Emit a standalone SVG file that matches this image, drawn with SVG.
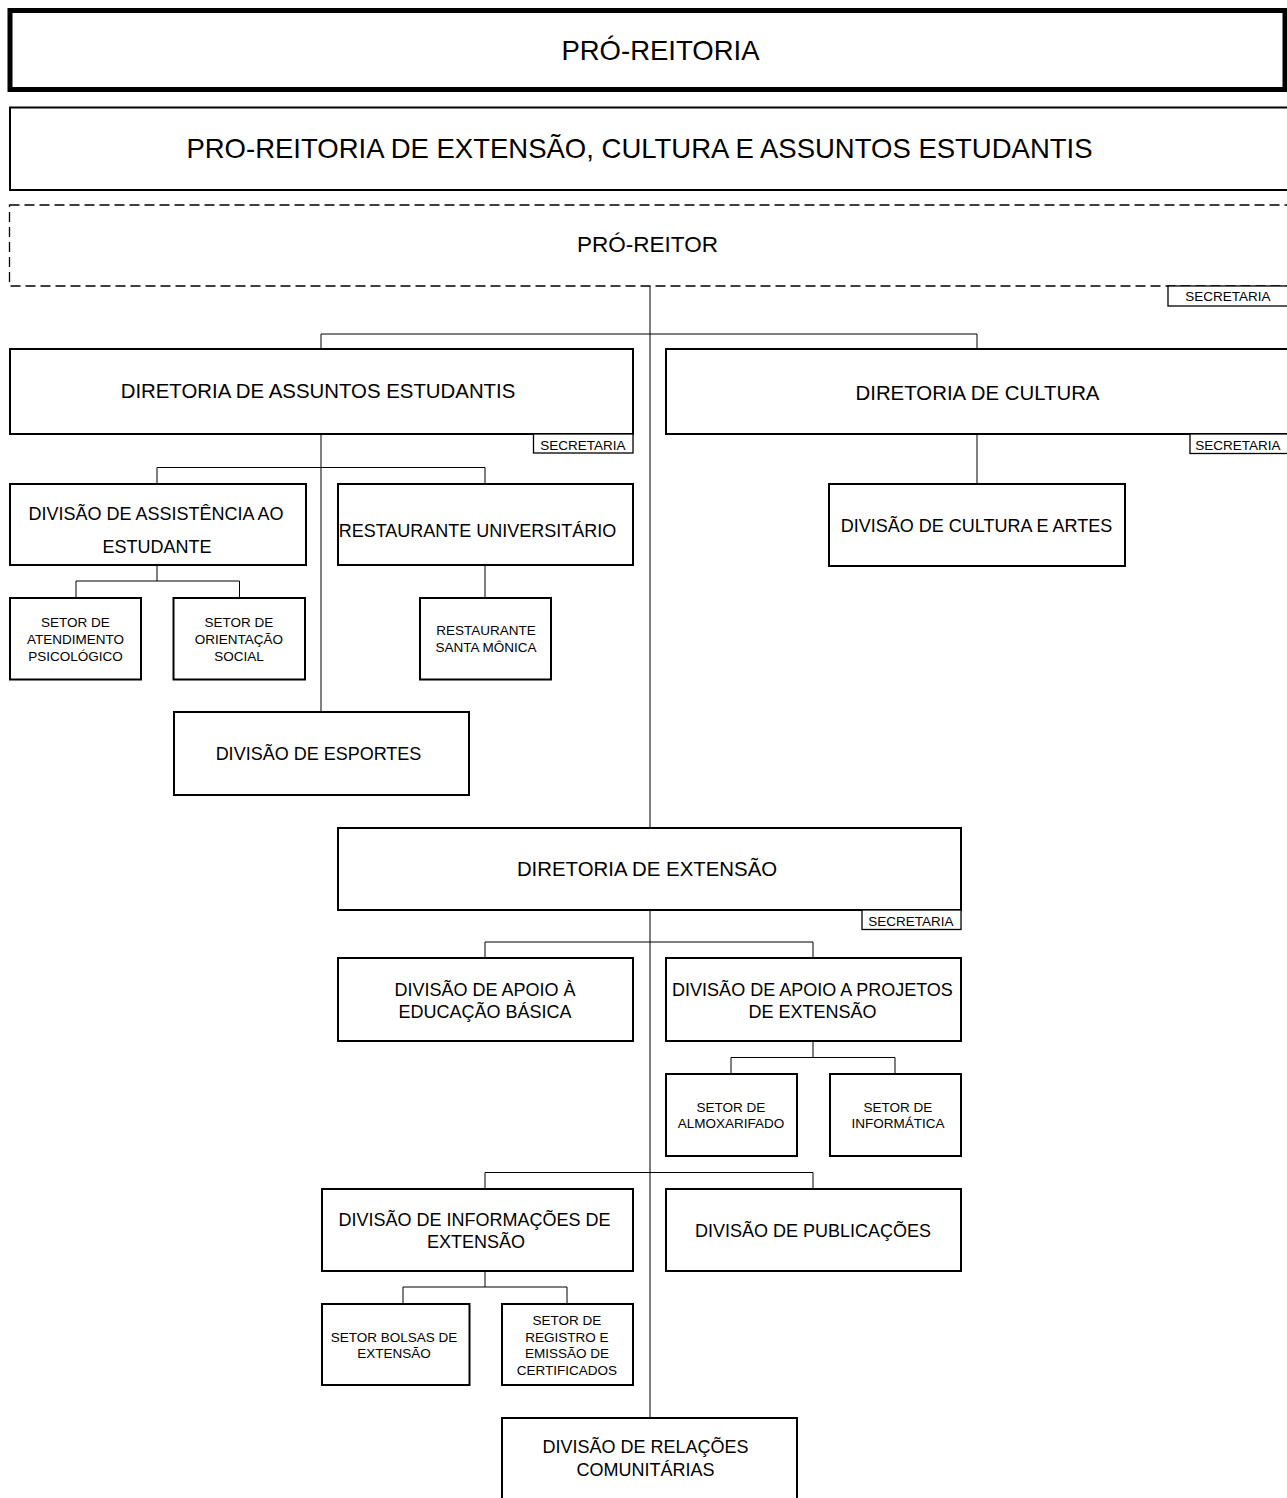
<svg xmlns="http://www.w3.org/2000/svg" width="1287" height="1498" viewBox="0 0 1287 1498">
<style>
rect{fill:#fff;stroke:#000;stroke-width:2}
rect.bg{stroke:none}
.thick{stroke-width:5}
.dash{stroke-width:1.3;stroke-dasharray:10 5}
.sec{stroke-width:1.3}
text{font-family:"Liberation Sans",Arial,sans-serif;fill:#000;text-anchor:middle}
.t1{font-size:27.5px}
.t2{font-size:22.5px}
.t3{font-size:20.4px}
.t4{font-size:18px}
.t5{font-size:13.5px}
.ts{font-size:13.5px}
#connectors path{fill:none;stroke:#000;stroke-width:1}
</style>
<rect class="bg" x="0" y="0" width="1287" height="1498"/>
<g id="connectors">
<path d="M650 286V828M650 910V1418"/>
<path d="M321 349V334H977V349"/>
<path d="M321 434V712"/>
<path d="M157 484V467.5H485V484"/>
<path d="M157 565V581H76V598M157 581H239.5V598"/>
<path d="M485 565V598"/>
<path d="M977 434V484"/>
<path d="M485 958V942H813V958"/>
<path d="M813 1041V1057.5H731V1074M813 1057.5H895V1074"/>
<path d="M485 1189V1172.5H813V1189"/>
<path d="M485 1271V1287H403V1304M485 1287H567V1304"/>
</g>
<g id="n-proreitoria"><rect class="thick" x="10" y="10.5" width="1275" height="79"/><text class="t1" x="660.5" y="60">PRÓ-REITORIA</text></g>
<g id="n-proreitoria-ext"><rect x="10" y="107.5" width="1290" height="82.5"/><text class="t1" x="639.5" y="158">PRO-REITORIA DE EXTENSÃO, CULTURA E ASSUNTOS ESTUDANTIS</text></g>
<g id="n-proreitor"><rect class="dash" x="9.5" y="205" width="1300" height="81"/><text class="t2" x="647.5" y="252">PRÓ-REITOR</text></g>
<g id="n-sec0"><rect class="sec" x="1168" y="286" width="130" height="20"/><text class="ts" x="1228" y="301">SECRETARIA</text></g>
<g id="n-dae"><rect x="10" y="349" width="623" height="85"/><text class="t3" x="318" y="398">DIRETORIA DE ASSUNTOS ESTUDANTIS</text></g>
<g id="n-sec1"><rect class="sec" x="533.5" y="434" width="99.5" height="19"/><text class="ts" x="583" y="449.5">SECRETARIA</text></g>
<g id="n-dc"><rect x="666" y="349" width="640" height="85"/><text class="t3" x="977.5" y="400">DIRETORIA DE CULTURA</text></g>
<g id="n-sec2"><rect class="sec" x="1190" y="434" width="110" height="19.5"/><text class="ts" x="1238" y="449.5">SECRETARIA</text></g>
<g id="n-dae-assist"><rect x="10" y="484" width="296" height="81"/><text class="t4" x="156" y="519.5">DIVISÃO DE ASSISTÊNCIA AO</text><text class="t4" x="157" y="552.5">ESTUDANTE</text></g>
<g id="n-ru"><rect x="338" y="484" width="295" height="81"/><text class="t4" x="477.5" y="536.5">RESTAURANTE UNIVERSITÁRIO</text></g>
<g id="n-cultura-artes"><rect x="829" y="484" width="296" height="82"/><text class="t4" x="976.5" y="531.5">DIVISÃO DE CULTURA E ARTES</text></g>
<g id="n-psico"><rect x="10" y="598" width="131" height="81.5"/><text class="t5" x="75.5" y="627">SETOR DE</text><text class="t5" x="75.5" y="644">ATENDIMENTO</text><text class="t5" x="75.5" y="661">PSICOLÓGICO</text></g>
<g id="n-social"><rect x="173.5" y="598" width="131.5" height="81.5"/><text class="t5" x="239" y="627">SETOR DE</text><text class="t5" x="239" y="644">ORIENTAÇÃO</text><text class="t5" x="239" y="661">SOCIAL</text></g>
<g id="n-santamonica"><rect x="420" y="598" width="131" height="81.5"/><text class="t5" x="486" y="635">RESTAURANTE</text><text class="t5" x="486" y="652">SANTA MÔNICA</text></g>
<g id="n-esportes"><rect x="174" y="712" width="295" height="83"/><text class="t4" x="318.5" y="759.5">DIVISÃO DE ESPORTES</text></g>
<g id="n-de"><rect x="338" y="828" width="623" height="82"/><text class="t3" x="647" y="876">DIRETORIA DE EXTENSÃO</text></g>
<g id="n-sec3"><rect class="sec" x="862" y="910" width="99" height="19.5"/><text class="ts" x="911" y="925.5">SECRETARIA</text></g>
<g id="n-educ"><rect x="338" y="958" width="295" height="83"/><text class="t4" x="485" y="995.5">DIVISÃO DE APOIO À</text><text class="t4" x="485" y="1017.5">EDUCAÇÃO BÁSICA</text></g>
<g id="n-projetos"><rect x="666" y="958" width="295" height="83"/><text class="t4" x="812.5" y="995.5">DIVISÃO DE APOIO A PROJETOS</text><text class="t4" x="812.5" y="1017.5">DE EXTENSÃO</text></g>
<g id="n-almox"><rect x="666" y="1074" width="131" height="82"/><text class="t5" x="731" y="1112">SETOR DE</text><text class="t5" x="731" y="1128">ALMOXARIFADO</text></g>
<g id="n-info"><rect x="830" y="1074" width="131" height="82"/><text class="t5" x="898" y="1112">SETOR DE</text><text class="t5" x="898" y="1128">INFORMÁTICA</text></g>
<g id="n-informacoes"><rect x="322" y="1189" width="311" height="82"/><text class="t4" x="474.5" y="1225.5">DIVISÃO DE INFORMAÇÕES DE</text><text class="t4" x="476" y="1247.5">EXTENSÃO</text></g>
<g id="n-publicacoes"><rect x="666" y="1189" width="295" height="82"/><text class="t4" x="813" y="1236.5">DIVISÃO DE PUBLICAÇÕES</text></g>
<g id="n-bolsas"><rect x="322" y="1304" width="147.5" height="81"/><text class="t5" x="394" y="1342">SETOR BOLSAS DE</text><text class="t5" x="394" y="1358">EXTENSÃO</text></g>
<g id="n-registro"><rect x="502" y="1304" width="131" height="81"/><text class="t5" x="567" y="1325">SETOR DE</text><text class="t5" x="567" y="1342">REGISTRO E</text><text class="t5" x="567" y="1358">EMISSÃO DE</text><text class="t5" x="567" y="1375">CERTIFICADOS</text></g>
<g id="n-relacoes"><rect x="502" y="1418" width="295" height="90"/><text class="t4" x="645.5" y="1452.5">DIVISÃO DE RELAÇÕES</text><text class="t4" x="645.5" y="1475.5">COMUNITÁRIAS</text></g>
</svg>
